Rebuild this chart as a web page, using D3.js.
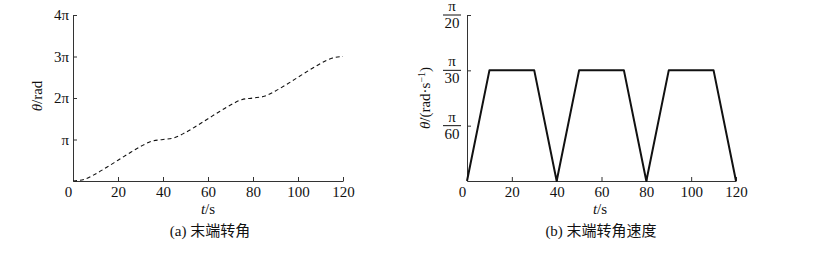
<!DOCTYPE html>
<html>
<head>
<meta charset="utf-8">
<script src="https://cdn.jsdelivr.net/npm/d3@7/dist/d3.min.js"></script>
<style>
  body { margin: 0; background: #fff; }
  svg text { font-family: "Liberation Serif", "DejaVu Serif", serif; fill: #111; }
  .cjk { font-family: "Liberation Serif", "Noto Sans CJK SC", serif; }
</style>
</head>
<body>
<div id="chart"></div>
<script>
// time samples (s)
var timeA = [0, 5, 10, 15, 20, 25, 30, 35, 40, 45, 50, 55, 60, 65, 70, 75, 80,
             85, 90, 95, 100, 105, 110, 115, 120];
// end rotation angle, in units of pi
var angleA = [0, 0.04, 0.17, 0.33, 0.5, 0.67, 0.83, 0.96, 1.0, 1.04, 1.17, 1.33, 1.5,
              1.67, 1.83, 1.96, 2.0, 2.04, 2.17, 2.33, 2.5, 2.67, 2.83, 2.96, 3.0];
// angular velocity breakpoints, in units of pi/60 (panel b)
var timeB = [0, 10, 30, 40, 50, 70, 80, 90, 110, 120];
var speedB = [0, 2, 2, 0, 2, 2, 0, 2, 2, 0];

var xTicks = [0, 20, 40, 60, 80, 100, 120];
var yTicksA = [1, 2, 3, 4];
var yLabelsA = ["π", "2π", "3π", "4π"];
var yTicksB = [1, 2, 3];
var yDenB = ["60", "30", "20"];

var svg = d3.select("#chart").append("svg")
  .attr("width", 833).attr("height", 254);

var plotTop = 15, plotBottom = 181;

function xAxisFor(g, x) {
  var ax = g.append("g")
    .attr("transform", "translate(0," + plotBottom + ")")
    .call(d3.axisBottom(x).tickValues(xTicks).tickSizeInner(-4).tickSizeOuter(0).tickPadding(5));
  ax.selectAll("text").style("font-size", "15px").attr("fill", "#111")
    .attr("dx", d => d === 0 ? "-5" : 0);
  ax.select(".domain").attr("stroke", "#333");
  ax.selectAll(".tick line").attr("stroke", "#333");
  return ax;
}

// ---------- panel (a) ----------
var xa = d3.scaleLinear().domain([0, 120]).range([73, 343]);
var ya = d3.scaleLinear().domain([0, 4]).range([plotBottom, plotTop]);
var ga = svg.append("g");

var yaxA = ga.append("g")
  .attr("transform", "translate(73,0)")
  .call(d3.axisLeft(ya).tickValues(yTicksA).tickSizeInner(-4).tickSizeOuter(0).tickPadding(4)
    .tickFormat((d, i) => yLabelsA[i]));
yaxA.selectAll("text").style("font-size", "15px").attr("fill", "#111");
yaxA.select(".domain").attr("stroke", "#333");
yaxA.selectAll(".tick line").attr("stroke", "#333");
xAxisFor(ga, xa);

ga.append("path")
  .datum(timeA.map((t, i) => [t, angleA[i]]))
  .attr("fill", "none")
  .attr("stroke", "#111")
  .attr("stroke-width", 1.1)
  .attr("stroke-dasharray", "4,3")
  .attr("d", d3.line().x(d => xa(d[0])).y(d => ya(d[1])).curve(d3.curveMonotoneX));

ga.append("text")
  .attr("transform", "translate(42,96) rotate(-90)")
  .attr("text-anchor", "middle")
  .style("font-size", "15px")
  .html('<tspan font-style="italic">θ</tspan>/rad');

ga.append("text")
  .attr("x", 208).attr("y", 214)
  .attr("text-anchor", "middle")
  .style("font-size", "15px")
  .html('<tspan font-style="italic">t</tspan>/s');

ga.append("text").attr("class", "cjk")
  .attr("x", 210).attr("y", 236)
  .attr("text-anchor", "middle")
  .style("font-size", "15px")
  .text("(a) 末端转角");

// ---------- panel (b) ----------
var xb = d3.scaleLinear().domain([0, 120]).range([467, 736]);
var yb = d3.scaleLinear().domain([0, 3]).range([plotBottom, plotTop]);
var gb = svg.append("g");

var yaxB = gb.append("g")
  .attr("transform", "translate(467,0)")
  .call(d3.axisLeft(yb).tickValues(yTicksB).tickSizeInner(-4).tickSizeOuter(0).tickFormat(""));
yaxB.select(".domain").attr("stroke", "#333");
yaxB.selectAll(".tick line").attr("stroke", "#333");

var frac = gb.selectAll(".frac").data(yTicksB).enter().append("g")
  .attr("class", "frac")
  .attr("transform", d => "translate(452," + yb(d) + ")");
frac.append("text")
  .attr("y", -4).attr("text-anchor", "middle")
  .style("font-size", "15px").text("π");
frac.append("line")
  .attr("x1", -9).attr("x2", 9).attr("y1", 0).attr("y2", 0)
  .attr("stroke", "#111").attr("stroke-width", 1);
frac.append("text")
  .attr("y", 13).attr("text-anchor", "middle")
  .style("font-size", "15px").text((d, i) => yDenB[i]);

xAxisFor(gb, xb);

gb.append("path")
  .datum(timeB.map((t, i) => [t, speedB[i]]))
  .attr("fill", "none")
  .attr("stroke", "#111")
  .attr("stroke-width", 2)
  .attr("stroke-linejoin", "round")
  .attr("d", d3.line().x(d => xb(d[0])).y(d => yb(d[1])));

gb.append("text")
  .attr("transform", "translate(430,98) rotate(-90)")
  .attr("text-anchor", "middle")
  .style("font-size", "15px")
  .html('<tspan font-style="italic">θ̇</tspan>/(rad·s<tspan baseline-shift="super" font-size="10px">−1</tspan>)');

gb.append("text")
  .attr("x", 600).attr("y", 214)
  .attr("text-anchor", "middle")
  .style("font-size", "15px")
  .html('<tspan font-style="italic">t</tspan>/s');

gb.append("text").attr("class", "cjk")
  .attr("x", 601).attr("y", 236)
  .attr("text-anchor", "middle")
  .style("font-size", "15px")
  .text("(b) 末端转角速度");
</script>
</body>
</html>
